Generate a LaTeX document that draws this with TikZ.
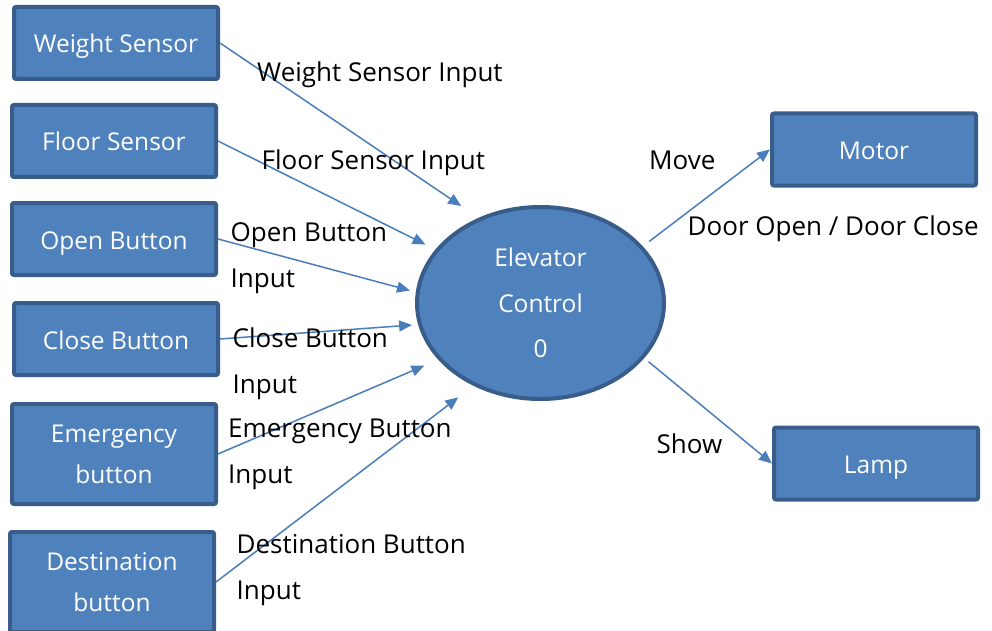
\documentclass[tikz,border=0pt]{standalone}
\usepackage{fontspec}
\setmainfont{Open Sans}
\usetikzlibrary{shapes.geometric,arrows.meta}

\definecolor{boxfill}{HTML}{4F81BD}
\definecolor{boxline}{HTML}{385D8A}
\definecolor{flowline}{HTML}{4A7EBB}

\tikzset{
  entitybase/.style={draw=boxline, fill=boxfill, line width=4pt, rounded corners=2pt,
    minimum width=204pt, minimum height=72pt, inner sep=0pt, text=white,
    align=center, font=\fontsize{24.5}{41}\selectfont},
  entity/.style={entitybase, text height=22pt, text depth=2pt},
  tallentity/.style={entitybase, minimum height=100pt},
  process/.style={ellipse, draw=boxline, fill=boxfill, line width=4pt,
    minimum width=247pt, minimum height=192pt, inner sep=0pt, text=white,
    align=center, font=\fontsize{24.5}{45.5}\selectfont},
  flowlabel/.style={anchor=base west, inner sep=0pt, align=left,
    font=\fontsize{26}{46}\selectfont},
  flow/.style={draw=flowline, line width=1.5pt,
    -{Triangle[length=13pt,width=11pt]}}
}

\begin{document}
\begin{tikzpicture}[x=1pt, y=-1pt]
\useasboundingbox (0,0) rectangle (992,631);

% external entities
\node[entity]     (ws) at (116,43)    {Weight Sensor};
\node[entity]     (fs) at (114,141)   {Floor Sensor};
\node[entity]     (ob) at (114,239)   {Open Button};
\node[entity]     (cb) at (116,339)   {Close Button};
\node[tallentity] (eb) at (114,454)   {Emergency\\button};
\node[tallentity] (db) at (112,582)   {Destination\\button};
\node[entity]     (mo) at (874,149.5) {Motor};
\node[entity]     (la) at (876,463.5) {Lamp};

% central process
\node[process] (ec) at (540.5,303) {Elevator\\Control\\0};

% data flows
\draw[flow, shorten >=21pt]  (ws.east) -- (ec.126.4);
\draw[flow, shorten >=11pt]  (fs.east) -- (ec.153.3);
\draw[flow, shorten >=6pt]   (ob.east) -- (ec.175.2);
\draw[flow, shorten >=6pt]   (cb.east) -- (ec.190);
\draw[flow, shorten >=15pt]  (eb.east) -- (ec.209.4);
\draw[flow, shorten >=19pt]  (db.east) -- (ec.231.9);
\draw[flow, shorten <=8pt]   (ec.29.9) -- (mo.west);
\draw[flow, shorten <=5.5pt] (ec.-28.3) -- (la.west);

% flow labels (base anchor sits on the last line)
\node[flowlabel] (lws) at (257,82)    {Weight Sensor Input};
\node[flowlabel] (lfs) at (261.5,170) {Floor Sensor Input};
\node[flowlabel] (lob) at (230.5,287.7) {Open Button\\Input};
\node[flowlabel] (lcb) at (232.5,393.3) {Close Button\\Input};
\node[flowlabel] (leb) at (228,483.5) {Emergency Button\\Input};
\node[flowlabel] (ldb) at (236.5,599.3) {Destination Button\\Input};
\node[flowlabel] (lmv) at (649,170)   {Move};
\node[flowlabel] (ldr) at (687.5,235) {Door Open / Door Close};
\node[flowlabel] (lsh) at (656.5,453.3) {Show};
\end{tikzpicture}
\end{document}
